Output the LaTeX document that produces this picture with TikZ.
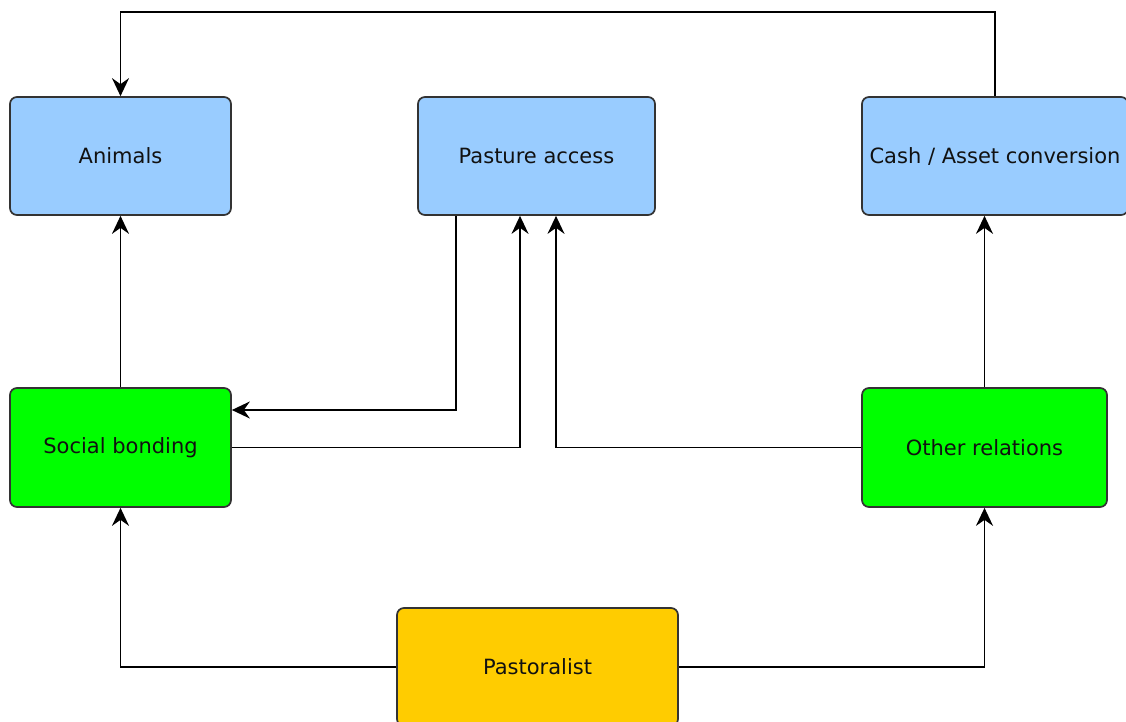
\documentclass[tikz,border=0pt]{standalone}
\usepackage{fontspec}
\setmainfont{DejaVu Sans}
\usetikzlibrary{arrows.meta,calc}
\definecolor{boxblue}{HTML}{99CCFF}
\definecolor{boxgreen}{HTML}{00FF00}
\definecolor{boxyellow}{HTML}{FFCC00}
\definecolor{edgegray}{HTML}{333333}
\definecolor{txt}{HTML}{111111}
\begin{document}
\begin{tikzpicture}[x=1pt,y=-1pt,
  boxnode/.style={draw=edgegray,line width=1.7pt,rounded corners=7pt,inner sep=0pt,
    text=txt,font=\fontsize{21}{25}\selectfont},
  blue/.style={boxnode,fill=boxblue},
  green/.style={boxnode,fill=boxgreen},
  yellow/.style={boxnode,fill=boxyellow},
  arr/.style={draw=black,line width=1.9pt,-{Stealth[length=18pt,width=17pt,inset=6pt]}}]
\useasboundingbox (0,0) rectangle (1126,722);
\node[blue,minimum width=221pt,minimum height=118pt] (animals) at (120.5,156) {Animals};
\node[blue,minimum width=237pt,minimum height=118pt] (pasture) at (536.5,156) {Pasture access};
\node[blue,minimum width=266pt,minimum height=118pt] (cash) at (995,156) {Cash / Asset conversion};
\node[green,minimum width=221pt,minimum height=119pt] (social) at (120.5,447.5) {Social bonding};
\node[green,minimum width=245pt,minimum height=119pt] (other) at (984.5,447.5) {Other relations};
\node[yellow,minimum width=281pt,minimum height=118pt] (pastoralist) at (537.5,667) {Pastoralist};
\coordinate (topy) at (0,12);
\draw[arr] (cash.north) -- (cash.north |- topy) -| (animals.north);
\draw[arr] (social.north) -- (animals.south);
\draw[arr] ([xshift=-80.5pt]pasture.south) |- ([yshift=37.5pt]social.east);
\draw[arr] (social.east) -| ([xshift=-16.5pt]pasture.south);
\draw[arr] (other.west) -| ([xshift=19.5pt]pasture.south);
\draw[arr] (other.north) -- (other.north |- cash.south);
\draw[arr] (pastoralist.west) -| (social.south);
\draw[arr] (pastoralist.east) -| (other.south);
\end{tikzpicture}
\end{document}
